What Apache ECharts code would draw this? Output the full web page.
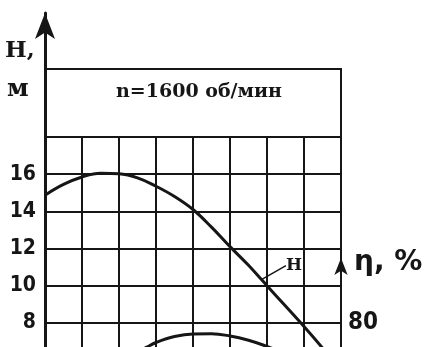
<!DOCTYPE html>
<html>
<head>
<meta charset="utf-8">
<script src="https://cdn.jsdelivr.net/npm/echarts@6/dist/echarts.min.js"></script>
<style>html,body{margin:0;padding:0;background:#fff;}#c{width:431px;height:347px;}</style>
</head>
<body>
<div id="c"></div>
<script>
// Head curve H (m) vs flow (grid columns, x axis labels cropped out)
const xH = [0, 0.5, 1, 1.5, 2, 2.5, 3, 3.5, 4, 4.5, 5, 5.5, 5.85, 6, 6.5, 7, 7.5, 8];
const H  = [14.87, 15.45, 15.85, 16.05, 16.02, 15.8, 15.35, 14.8, 14.1, 13.15, 12.1, 11.1, 10.33, 10.0, 8.9, 7.8, 6.65, 5.45];
// Efficiency curve η (%)
const xEta = [2.25, 2.5, 2.75, 3, 3.5, 4, 4.5, 5, 5.5, 6, 6.25, 6.5];
const eta  = [61.5, 64.3, 66.9, 69.4, 72.6, 74.0, 74.1, 72.9, 70.6, 67.3, 65.3, 63.0];
const etaTicks = [60, 80];
const labelIdx = 12;

const ink = '#161616';
const chart = echarts.init(document.getElementById('c'), null, {renderer: 'canvas'});
const gridBox = {left: 45, width: 296, outerBoundsMode: 'none', containLabel: false};
chart.setOption({
  animation: false,
  backgroundColor: '#fff',
  title: [
    {text: 'n=1600 об/мин', left: 199, top: 83, textAlign: 'center', padding: 0,
     textStyle: {fontFamily: 'DejaVu Serif', fontWeight: 'bold', fontSize: 19, color: ink}},
    {text: 'H,', left: 5, top: 40, padding: 0,
     textStyle: {fontFamily: 'DejaVu Serif', fontWeight: 'bold', fontSize: 23, color: ink}},
    {text: 'м', left: 7, top: 77, padding: 0,
     textStyle: {fontFamily: 'DejaVu Serif', fontWeight: 'bold', fontSize: 25, color: ink}},
    {text: 'η, %', left: 354, top: 249, padding: 0,
     textStyle: {fontFamily: 'DejaVu Sans', fontWeight: 'bold', fontSize: 28, color: ink}}
  ],
  grid: [
    Object.assign({top: 137, height: 223}, gridBox),                 // main data grid
    Object.assign({top: 13, height: 400}, gridBox),                  // H axis arrow
    Object.assign({top: 258, height: 102}, gridBox),                 // η axis
    Object.assign({top: 69, height: 68, show: true, borderColor: ink, borderWidth: 2, backgroundColor: 'transparent'}, gridBox) // title box
  ],
  xAxis: [
    {gridIndex: 0, type: 'value', min: 0, max: 8, interval: 1,
     axisLine: {show: false}, axisTick: {show: false}, axisLabel: {show: false},
     splitLine: {show: true, lineStyle: {color: ink, width: 2}}},
    {gridIndex: 1, type: 'value', min: 0, max: 8, show: false},
    {gridIndex: 2, type: 'value', min: 0, max: 8, show: false},
    {gridIndex: 3, type: 'value', min: 0, max: 8, show: false}
  ],
  yAxis: [
    {gridIndex: 0, type: 'value', min: 6, max: 18, interval: 2,
     axisLine: {show: false}, axisTick: {show: false},
     axisLabel: {show: true, margin: 9, color: ink, fontFamily: "'Liberation Sans Narrow', 'DejaVu Sans Condensed', sans-serif", fontWeight: 'bold', fontSize: 21,
       formatter: v => (v >= 8 && v <= 16) ? String(v) : ''},
     splitLine: {show: true, lineStyle: {color: ink, width: 2}}},
    {gridIndex: 1, type: 'value', min: 0, max: 10, position: 'left',
     axisLine: {show: true, onZero: false, symbol: ['none', 'arrow'], symbolSize: [15, 26], lineStyle: {color: ink, width: 3}},
     axisTick: {show: false}, axisLabel: {show: false}, splitLine: {show: false}},
    {gridIndex: 2, type: 'value', min: 60, max: 114.8, position: 'right',
     axisLine: {show: true, onZero: false, symbol: ['none', 'arrow'], symbolSize: [10, 17], lineStyle: {color: ink, width: 2}},
     axisTick: {show: false},
     axisLabel: {show: true, margin: 7, customValues: etaTicks, color: ink, fontFamily: "'Liberation Sans Narrow', 'DejaVu Sans Condensed', sans-serif", fontWeight: 'bold', fontSize: 24},
     splitLine: {show: false}},
    {gridIndex: 3, type: 'value', min: 0, max: 1, show: false}
  ],
  series: [
    {type: 'line', xAxisIndex: 0, yAxisIndex: 0, smooth: 0.4,
     symbol: 'circle', symbolSize: 1, itemStyle: {color: ink},
     lineStyle: {color: ink, width: 3},
     data: xH.map((x, i) => i === labelIdx ? {value: [x, H[i]], label: {show: true}} : [x, H[i]]),
     label: {show: false, position: 'right', distance: 0, formatter: 'H', color: ink,
       fontFamily: 'DejaVu Serif', fontWeight: 'bold', fontSize: 17},
     labelLine: {show: true, lineStyle: {color: ink, width: 1.5}},
     labelLayout: p => p.dataIndex === labelIdx ? {dx: 24, dy: -14} : {}},
    {type: 'line', xAxisIndex: 2, yAxisIndex: 2, smooth: 0.4, symbol: 'none',
     lineStyle: {color: ink, width: 3},
     data: xEta.map((x, i) => [x, eta[i]])}
  ]
});
</script>
</body>
</html>
